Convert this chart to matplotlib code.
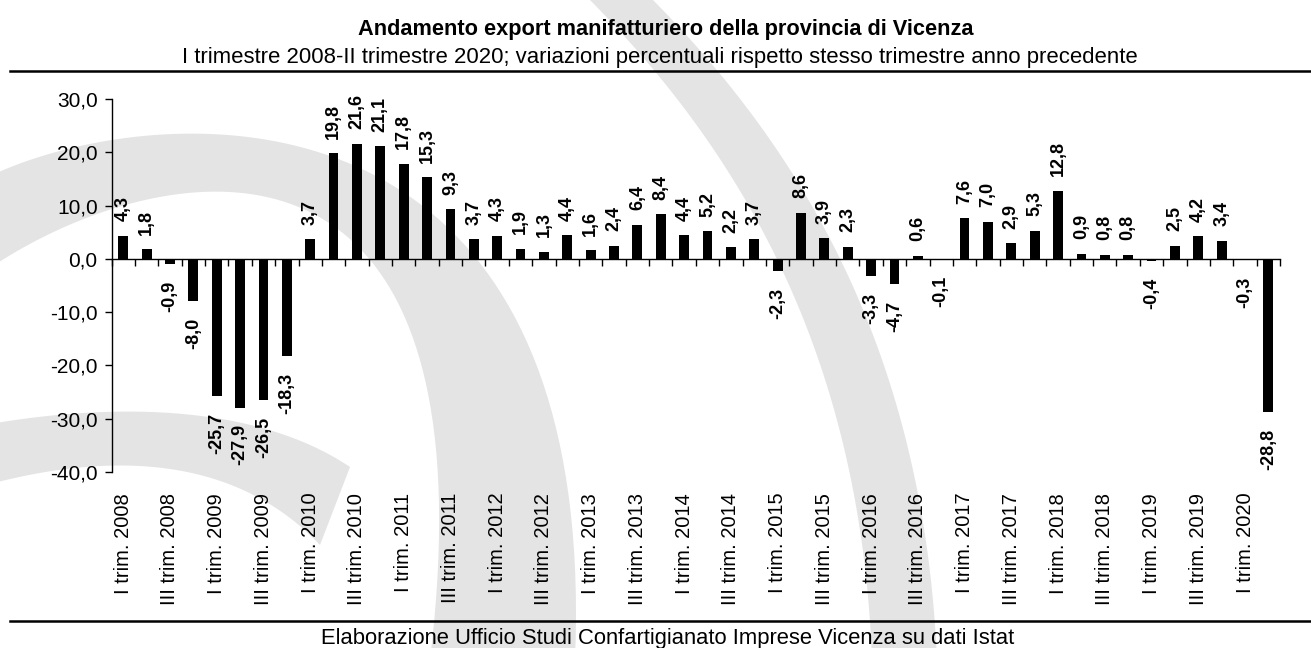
import numpy as np
import matplotlib.pyplot as plt
from matplotlib.patches import Polygon
from matplotlib.ticker import FuncFormatter

plt.rcParams['font.family'] = ['Liberation Sans', 'DejaVu Sans']
plt.rcParams['axes.unicode_minus'] = False

# quarters I 2008 .. II 2020
quarters = ['I', 'II', 'III', 'IV']
years = list(range(2008, 2021))
labels = [f"{q} trim. {y}" for y in years for q in quarters][:50]

values = [4.3, 1.8, -0.9, -8.0,
          -25.7, -27.9, -26.5, -18.3,
          3.7, 19.8, 21.6, 21.1,
          17.8, 15.3, 9.3, 3.7,
          4.3, 1.9, 1.3, 4.4,
          1.6, 2.4, 6.4, 8.4,
          4.4, 5.2, 2.2, 3.7,
          -2.3, 8.6, 3.9, 2.3,
          -3.3, -4.7, 0.6, -0.1,
          7.6, 7.0, 2.9, 5.3,
          12.8, 0.9, 0.8, 0.8,
          -0.4, 2.5, 4.2, 3.4,
          -0.3, -28.8]

title = "Andamento export manifatturiero della provincia di Vicenza"
subtitle = ("I trimestre 2008-II trimestre 2020; variazioni percentuali "
            "rispetto stesso trimestre anno precedente")
source = "Elaborazione Ufficio Studi Confartigianato Imprese Vicenza su dati Istat"


def it_num(v):
    # italian decimal comma
    return f"{v:.1f}".replace('.', ',')


def bezier(p0, p1, p2, p3, n=80):
    t = np.linspace(0, 1, n)[:, None]
    p0, p1, p2, p3 = map(np.array, (p0, p1, p2, p3))
    return (1 - t)**3 * p0 + 3 * (1 - t)**2 * t * p1 + 3 * (1 - t) * t**2 * p2 + t**3 * p3


def band(outer, inner):
    a = bezier(*outer)
    b = bezier(*inner)[::-1]
    return np.vstack([a, b])


def draw_background(fig):
    # pixel sized background axes for the grey logo and the rules
    bg = fig.add_axes([0, 0, 1, 1], zorder=-1)
    bg.set_xlim(0, 1311)
    bg.set_ylim(648, 0)
    bg.axis('off')
    grey = '#e4e4e4'
    shapes = [
        band([(-10, 176), (150, 100), (600, 60), (575, 660)],
             [(-10, 268), (150, 160), (500, 80), (430, 660)]),
        band([(-10, 424), (100, 405), (250, 400), (350, 467)],
             [(-10, 484), (100, 455), (230, 450), (320, 545)]),
        band([(585, -5), (720, 130), (860, 330), (872, 660)],
             [(648, -5), (783, 130), (923, 330), (937, 660)]),
    ]
    for pts in shapes:
        bg.add_patch(Polygon(pts, closed=True, facecolor=grey, edgecolor='none'))
    bg.plot([10, 1311], [71, 71], color='black', lw=1.8)
    bg.plot([10, 1311], [621, 621], color='black', lw=1.8)


def main():
    fig = plt.figure(figsize=(13.11, 6.48), dpi=100)
    draw_background(fig)

    ax = fig.add_axes([0.0851, 0.2716, 0.8913, 0.5756])
    ax.set_facecolor('none')
    x = np.arange(len(values))
    ax.bar(x, values, width=0.42, color='black', zorder=3)

    ax.set_xlim(-0.5, len(values) - 0.5)
    ax.set_ylim(-40, 30)
    ax.spines[['top', 'right']].set_visible(False)
    ax.spines['bottom'].set_position(('data', 0))
    for s in ('left', 'bottom'):
        ax.spines[s].set_linewidth(1.0)

    # tick marks between bars on the zero line
    ax.set_xticks(np.arange(-0.5, len(values), 1))
    ax.tick_params(axis='x', length=5, width=1, direction='out', labelbottom=False)
    ax.set_yticks(range(-40, 31, 10))
    ax.yaxis.set_major_formatter(FuncFormatter(lambda v, p: it_num(v)))
    ax.tick_params(axis='y', length=5, width=1, pad=5, labelsize=15)

    # category labels sit under the plot, not on the zero line
    sec = ax.secondary_xaxis('bottom')
    sec.set_xticks(x[::2], labels[::2], rotation=90)
    sec.tick_params(length=0, pad=15, labelsize=14.5)
    sec.spines['bottom'].set_visible(False)

    for i, v in enumerate(values):
        if v >= 0:
            ax.annotate(it_num(v), (i, v), xytext=(0, 10.5), textcoords='offset points',
                        rotation=90, ha='center', va='bottom', fontsize=13, fontweight='bold')
        else:
            ax.annotate(it_num(v), (i, v), xytext=(0, -12), textcoords='offset points',
                        rotation=90, ha='center', va='top', fontsize=13, fontweight='bold')

    fig.text(0.508, 1 - 35 / 648, title, ha='center', va='baseline',
             fontsize=15.7, fontweight='bold')
    fig.text(0.503, 1 - 63 / 648, subtitle, ha='center', va='baseline', fontsize=15.9)
    fig.text(0.509, 1 - 644 / 648, source, ha='center', va='baseline', fontsize=15.8)

    fig.savefig('out.png', dpi=100, facecolor='white')


if __name__ == "__main__":
    main()
